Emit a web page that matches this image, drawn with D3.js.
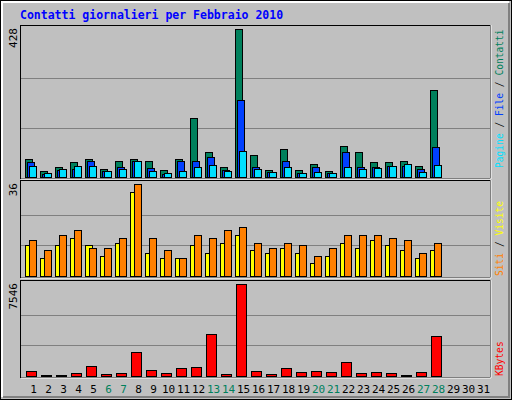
<!DOCTYPE html>
<html><head><meta charset="utf-8">
<script src="https://cdn.jsdelivr.net/npm/d3@7"></script>
<style>body{margin:0;background:#fff}svg{display:block}</style>
</head><body><svg width="512" height="400"></svg>
<script>
const days = d3.range(1, 32);
const weekend = [6, 7, 13, 14, 20, 21, 27, 28];
const contatti = [53,18,30,42,53,24,47,53,45,21,53,172,71,30,428,65,21,82,21,39,18,91,71,42,42,45,33,251];
const file = [42,10,21,24,47,18,30,47,27,10,47,45,59,21,222,30,15,45,13,30,13,71,30,30,33,33,24,88];
const pagine = [33,13,24,33,33,18,24,47,18,13,18,30,36,18,74,24,15,30,13,15,13,30,24,27,33,39,15,36];
const visite = [12,7,12,15,12,8,13,33,9,7,7,12,9,13,16,10,9,11,9,5,8,13,11,14,12,10,7,10];
const siti = [14,10,16,18,11,11,15,36,15,10,7,16,15,18,19,13,11,13,12,8,11,16,16,16,15,14,9,13];
const kbytes = [441,110,110,275,854,193,275,1928,523,275,688,771,3415,193,7546,441,193,688,358,441,358,1184,275,358,275,110,358,3250];

const svg = d3.select("svg");
const font = "'DejaVu Sans Mono', monospace";

// outer frame
svg.append("rect").attr("x", 0.5).attr("y", 0.5).attr("width", 511).attr("height", 399)
  .attr("fill", "#c0c0c0").attr("stroke", "#000");
svg.append("path").attr("d", "M2,397V2H509").attr("fill", "none").attr("stroke", "#fff").attr("stroke-width", 2);
svg.append("path").attr("d", "M3,397H509V3").attr("fill", "none").attr("stroke", "#808080").attr("stroke-width", 2);

svg.append("text").attr("x", 20).attr("y", 19).text("Contatti giornalieri per Febbraio 2010")
  .attr("font-family", font).attr("font-weight", "bold").attr("font-size", 11.5).attr("fill", "#0000ff");

const x = d3.scaleBand().domain(days).range([25, 490]);

const panels = [
  { top: 25, bottom: 178, max: 428 },
  { top: 180, bottom: 277, max: 36 },
  { top: 280, bottom: 377, max: 7546 }
];

panels.forEach(p => {
  svg.append("rect").attr("x", 20.5).attr("y", p.top + 0.5).attr("width", 470).attr("height", p.bottom - p.top)
    .attr("fill", "#c0c0c0").attr("stroke", "#000");
  svg.append("path").attr("d", `M21,${p.bottom + 1}H491V${p.top}`).attr("stroke", "#fff").attr("fill", "none");
  p.y = d3.scaleLinear().domain([0, p.max]).range([p.bottom - 1, p.top + 4]);
  [1 / 3, 2 / 3].forEach(f => {
    const gy = Math.round(p.y(p.max * f)) + 0.5;
    svg.append("line").attr("x1", 21).attr("x2", 490).attr("y1", gy).attr("y2", gy)
      .attr("stroke", "#808080").attr("stroke-width", 1);
  });
  svg.append("text").attr("transform", `translate(17,${p.top + 3}) rotate(-90)`)
    .attr("text-anchor", "end").attr("font-family", font).attr("font-size", 11).text(p.max);
});

function bars(p, data, dx, w, color) {
  svg.append("g").selectAll("rect").data(data).join("rect")
    .attr("x", (d, i) => x(i + 1) + dx + 0.5)
    .attr("y", d => Math.round(p.y(d)) + 0.5)
    .attr("width", w)
    .attr("height", d => p.y(0) - Math.round(p.y(d)))
    .attr("fill", color).attr("stroke", "#000");
}
bars(panels[0], contatti, 0, 7, "#00805c");
bars(panels[0], file, 2, 7, "#0040ff");
bars(panels[0], pagine, 4, 7, "#00e0ff");
bars(panels[1], visite, 0, 7, "#ffff00");
bars(panels[1], siti, 4, 7, "#ff8000");
bars(panels[2], kbytes, 1, 10, "#ff0000");

svg.append("g").selectAll("text").data(days).join("text")
  .attr("x", d => x(d) + x.bandwidth() / 2 + 1).attr("y", 393)
  .attr("text-anchor", "middle").attr("font-family", font).attr("font-size", 11)
  .attr("fill", d => weekend.includes(d) ? "#00805c" : "#000").text(d => d);

function sideLabel(yEnd, parts) {
  const t = svg.append("text").attr("transform", `translate(503,${yEnd}) rotate(-90)`)
    .attr("font-family", font).attr("font-size", 9.6);
  parts.forEach(([s, c]) => t.append("tspan").attr("fill", c).text(s));
}
sideLabel(168, [["Pagine", "#00e0ff"], [" / ", "#000"], ["File", "#0040ff"], [" / ", "#000"], ["Contatti", "#00805c"]]);
sideLabel(276, [["Siti", "#ff8000"], [" / ", "#000"], ["Visite", "#ffff00"]]);
sideLabel(376, [["KBytes", "#ff0000"]]);
</script></body></html>
